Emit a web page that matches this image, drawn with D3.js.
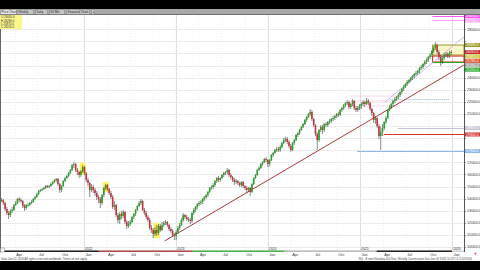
<!DOCTYPE html>
<html>
<head>
<meta charset="utf-8">
<script src="https://cdn.jsdelivr.net/npm/d3@7"></script>
<style>
html, body { margin: 0; padding: 0; background: #000; }
svg { display: block; font-family: "Liberation Sans", "DejaVu Sans", sans-serif; }
</style>
</head>
<body>
<svg id="chart" width="480" height="270"></svg>
<script>
// weekly bars, first bar = week of Jan 4 2021
var firstWeek = new Date(2021, 0, 4);
var firstOpen = 12980;

var closes = [
  // 2021
  13140,13310,13470,13640,13800,13880,13640,13140,12810,12640,12980,13060,13470,13640,13970,13880,13800,13390,13220,13470,13470,13640,13720,13970,14130,14380,14630,14710,14790,14880,15040,14960,15040,15210,15370,15540,15620,15210,14710,15040,15450,15700,15870,16120,16360,16780,16860,16360,16200,15950,16280,16610,
  // 2022
  16120,15540,15290,14710,14960,14710,14460,14130,13970,13640,14300,14880,15120,14790,14460,14130,13310,13470,12640,12230,12730,12560,12890,12070,11740,11900,12070,12480,12730,13060,13390,13640,13800,13060,12810,12480,12230,11570,11400,11070,11400,11160,11740,11400,11820,11980,12070,11820,11490,11320,10990,10910,
  // 2023
  11240,11570,11820,12230,12640,12480,12310,12230,12150,12810,13060,13310,13550,13640,13720,13970,14130,14300,14550,14880,14960,15120,15450,15700,15540,15700,15950,16120,16200,16360,15950,15780,15540,15370,15450,15290,15120,15370,15040,14880,14710,14880,14550,15210,15700,15950,16360,16530,16860,17020,17270,17190,
  // 2024
  16860,17190,17600,17770,18020,18100,18020,18260,18590,18840,18930,18680,18350,18020,18590,18840,19260,19420,19670,19920,20160,20500,20740,20990,21160,20580,20080,19340,18840,19670,19920,19670,20160,20080,20330,20410,20580,20660,20830,20990,20910,21320,21490,21730,21900,21980,21570,21820,22070,21490,21320,21490,
  // 2025
  21650,21820,21980,21820,22070,21900,21400,21070,20500,20660,20000,19170,19500,19830,20330,20660,21320,21570,21820,22070,22230,22400,22560,22810,23060,23220,23470,23640,23800,23970,24130,24300,24380,24550,24790,24880,25120,25290,25450,25700,25870,26200,26450,26690,26110,25700,25290,25620,25870,25950,25780,26030,26110
];

var highs = [
  13310,13470,13640,13800,13970,14050,13970,13720,13310,12980,13140,13310,13550,13800,14050,14130,14050,13880,13550,13550,13640,13720,13880,14050,14210,14460,14710,14790,14880,14960,15120,15120,15120,15290,15450,15620,15700,15700,15290,15120,15540,15780,15950,16200,16450,16860,17020,16940,16530,16280,16360,16780,
  16690,16200,15700,15370,15210,15120,14880,14630,14300,14130,14380,14960,15210,15210,14880,14630,14300,13800,13550,12810,12890,12980,13060,12980,12230,12150,12230,12560,12810,13140,13470,13800,13970,13880,13220,12980,12640,12400,11820,11570,11650,11820,11900,11900,12070,12150,12230,12150,11900,11650,11490,11160,
  11400,11740,11980,12400,12810,12730,12640,12480,12400,12890,13220,13390,13640,13800,13880,14050,14210,14380,14630,14960,15120,15290,15540,15780,15870,15780,16030,16200,16280,16530,16450,16120,15870,15700,15620,15540,15370,15450,15450,15120,15040,14960,14960,15290,15780,16030,16450,16690,16940,17110,17350,17440,
  17270,17270,17690,17850,18100,18260,18260,18430,18680,19010,19090,19090,18840,18510,18680,18930,19340,19500,19750,20000,20250,20580,20830,21070,21400,21320,20660,20160,19500,19750,20080,20080,20250,20330,20410,20580,20660,20830,20910,21070,21160,21400,21570,21820,21980,22150,22070,21900,22230,22150,21650,21650,
  21820,21980,22150,22070,22310,22230,21980,21490,21160,20830,20740,20160,19920,20160,20410,20830,21400,21730,21900,22150,22400,22480,22730,22890,23140,23390,23550,23800,23880,24050,24210,24380,24550,24630,24880,25040,25210,25450,25620,25780,26030,26280,26610,26940,26780,26280,25870,25780,26030,26110,26110,26200,26280
];

var lows = [
  12890,13060,13220,13390,13550,13720,13470,12980,12640,12310,12480,12810,12980,13390,13550,13720,13640,13220,12980,13060,13310,13390,13550,13640,13880,14050,14300,14550,14630,14710,14790,14880,14880,14960,15120,15290,15370,15040,14460,14550,14960,15370,15620,15780,16030,16280,16530,16200,15950,15700,15780,16120,
  15950,15370,15040,14130,14550,14460,14210,13880,13640,13220,13470,14130,14710,14630,14300,13970,13140,13060,12480,11980,11900,12310,12400,11900,11490,11570,11740,11980,12310,12560,12980,13310,13470,12980,12640,12310,12070,11400,11160,10740,10910,10910,10990,11240,11320,11650,11820,11650,11320,11160,10830,10580,
  10580,11070,11400,11740,12070,12310,12150,12070,11900,11980,12640,12890,13140,13390,13470,13550,13800,13970,14130,14460,14710,14790,14960,15290,15370,15370,15620,15780,15950,16030,15780,15620,15370,15120,15210,15120,14960,14960,14880,14710,14460,14550,14210,14460,15120,15620,15870,16280,16450,16690,16940,17020,
  16610,16690,17110,17440,17690,17850,17850,17850,18180,18510,18680,18510,18180,17850,17930,18430,18760,19090,19260,19590,19830,20080,20330,20660,20830,20410,19920,19170,18020,18680,19500,19340,19500,19920,19920,20160,20250,20410,20500,20660,20740,20830,21160,21320,21570,21730,21400,21400,21650,21320,21160,21160,
  21320,21400,21650,21570,21730,21730,21240,20830,20250,20160,19830,18930,18020,19170,19670,20160,20580,21240,21400,21650,21900,22070,22230,22400,22640,22890,23140,23300,23470,23640,23800,23970,24130,24210,24380,24630,24710,24960,25120,25290,25540,25700,26030,26280,25950,25450,24960,25120,25450,25700,25620,25620,25870
];

var priceTicks = [10000,11000,12000,13000,14000,15000,16000,17000,18000,19000,20000,21000,22000,23000,24000,25000,26000,27000,28000];
var yearTicks = [2022, 2023, 2024, 2025, 2026];
var highlightBars = [51, 64, 93];

// trend line anchors [date, price]
var trendLine = [[new Date(2022, 10, 17), 10500], [new Date(2026, 1, 17), 25040]];
var channelLine = [[new Date(2025, 3, 10), 21980], [new Date(2026, 1, 17), 27360]];

// horizontal levels
var levelPrices = [29090, 28760, 19830, 19300, 17930];
var levelStarts = [new Date(2025, 9, 16), new Date(2025, 9, 16), new Date(2025, 5, 1), new Date(2025, 3, 5), new Date(2024, 11, 20)];
var fibPrices = [22480, 22070, 21650, 22190];
var boxTop = [26690, 25870];
var boxMid = [25780, 25290];
var boxLow = 25250;
var boxStart = new Date(2025, 9, 16);

var tabNames = ["Price Chart", "Weekly", "Daily", "60 Min", "Seasonal Chart", "+"];

var W = 480, H = 270;
var plotL = 0, plotR = 464, plotT = 15, plotB = 250;

var svg = d3.select("#chart");

svg.append("rect").attr("width", W).attr("height", H).attr("fill", "#fff");

var x = d3.scaleTime()
    .domain([new Date(2021, 0, 1), new Date(2026, 0, 1)])
    .range([-8, 452]);

var y = d3.scaleLinear()
    .domain([10000, 28000])
    .range([247, 247 - 18 * 12.1]);

svg.append("clipPath").attr("id", "plotclip")
  .append("rect")
    .attr("x", plotL).attr("y", plotT)
    .attr("width", plotR - plotL).attr("height", plotB - plotT);

var plot = svg.append("g").attr("clip-path", "url(#plotclip)");

// grid
var quarters = d3.timeMonth.range(new Date(2021, 0, 1), new Date(2026, 3, 1), 3);
plot.selectAll(".vgrid")
  .data(quarters)
  .enter().append("line")
    .attr("x1", function(d) { return x(d) + 0.5; })
    .attr("x2", function(d) { return x(d) + 0.5; })
    .attr("y1", plotT).attr("y2", plotB)
    .attr("stroke", function(d) { return d.getMonth() === 0 ? "#dcdcdc" : "#ececec"; })
    .attr("stroke-dasharray", function(d) { return d.getMonth() === 0 ? null : "1,2"; })
    .attr("stroke-width", 1);

plot.selectAll(".hgrid")
  .data(priceTicks)
  .enter().append("line")
    .attr("x1", plotL).attr("x2", plotR)
    .attr("y1", function(d) { return Math.round(y(d)) + 0.5; })
    .attr("y2", function(d) { return Math.round(y(d)) + 0.5; })
    .attr("stroke", "#ebebeb")
    .attr("stroke-width", 1);

var bars = closes.map(function(c, i) {
    return {
        date: d3.timeDay.offset(firstWeek, 7 * i),
        open: i === 0 ? firstOpen : closes[i - 1],
        high: highs[i],
        low: lows[i],
        close: c
    };
});

// highlighted bars
plot.selectAll(".hl")
  .data(highlightBars)
  .enter().append("rect")
    .attr("x", function(i) { return x(bars[i].date) - 3; })
    .attr("width", 6)
    .attr("y", function(i) { return y(bars[i].high) - 2; })
    .attr("height", function(i) { return y(bars[i].low) - y(bars[i].high) + 4; })
    .attr("fill", "#fff35a");

// box annotations top right
plot.append("rect")
    .attr("x", x(boxStart)).attr("width", plotR - x(boxStart))
    .attr("y", y(boxTop[0])).attr("height", y(boxTop[1]) - y(boxTop[0]))
    .attr("fill", "#fbf7c8").attr("stroke", "#9a9a22").attr("stroke-width", 1);
plot.append("rect")
    .attr("x", x(boxStart)).attr("width", plotR - x(boxStart))
    .attr("y", y(boxMid[0])).attr("height", y(boxMid[1]) - y(boxMid[0]))
    .attr("fill", "none").attr("stroke", "#dd2222").attr("stroke-width", 1);
plot.append("line")
    .attr("x1", x(boxStart)).attr("x2", plotR)
    .attr("y1", y(boxLow)).attr("y2", y(boxLow))
    .attr("stroke", "#22aa22").attr("stroke-width", 1);

// horizontal levels
var levelColors = ["#ff55ff", "#ff99ff", "#c4c4d4", "#d83232", "#8cb8e8"];
plot.selectAll(".lvl")
  .data(levelPrices)
  .enter().append("line")
    .attr("x1", function(d, i) { return x(levelStarts[i]); })
    .attr("x2", plotR)
    .attr("y1", function(d) { return Math.round(y(d)) + 0.5; })
    .attr("y2", function(d) { return Math.round(y(d)) + 0.5; })
    .attr("stroke", function(d, i) { return levelColors[i]; })
    .attr("stroke-width", 1);

// dotted fib levels
plot.selectAll(".fib")
  .data(fibPrices)
  .enter().append("line")
    .attr("x1", function(d, i) { return x(i === 3 ? new Date(2025, 4, 1) : new Date(2024, 10, 20)); })
    .attr("x2", function(d, i) { return x(i === 3 ? new Date(2025, 11, 20) : new Date(2025, 5, 7)); })
    .attr("y1", function(d) { return y(d); })
    .attr("y2", function(d) { return y(d); })
    .attr("stroke", function(d, i) { return i === 3 ? "#7aa8d8" : "#f0a0c8"; })
    .attr("stroke-width", 0.8)
    .attr("stroke-dasharray", "1,1");

// trend lines
var line = d3.line().x(function(d) { return x(d[0]); }).y(function(d) { return y(d[1]); });
plot.append("path").datum(trendLine)
    .attr("d", line).attr("fill", "none")
    .attr("stroke", "#a83a3a").attr("stroke-width", 1);
plot.append("path").datum(channelLine)
    .attr("d", line).attr("fill", "none")
    .attr("stroke", "#b8a8e0").attr("stroke-width", 0.8);

// candles
var candle = plot.selectAll(".bar")
  .data(bars)
  .enter().append("g");

candle.append("line")
    .attr("x1", function(d) { return x(d.date); })
    .attr("x2", function(d) { return x(d.date); })
    .attr("y1", function(d) { return y(d.high); })
    .attr("y2", function(d) { return y(d.low); })
    .attr("stroke", "#3a3a3a")
    .attr("stroke-width", 0.6);

candle.append("rect")
    .attr("x", function(d) { return x(d.date) - 0.8; })
    .attr("width", 1.6)
    .attr("y", function(d) { return y(Math.max(d.open, d.close)); })
    .attr("height", function(d) { return Math.max(0.8, Math.abs(y(d.open) - y(d.close))); })
    .attr("fill", function(d) { return d.close >= d.open ? "#23a523" : "#c8323c"; });

// plot frame
svg.append("line").attr("x1", plotR + 0.5).attr("x2", plotR + 0.5)
    .attr("y1", plotT).attr("y2", 252).attr("stroke", "#555").attr("stroke-width", 1);
svg.append("line").attr("x1", 0.5).attr("x2", 0.5)
    .attr("y1", plotT).attr("y2", plotB).attr("stroke", "#666").attr("stroke-width", 1);

// coloured price tags on the axis, pushed apart so they do not overlap
var tagPrices = levelPrices.concat([boxTop[0], boxTop[1], boxMid[0], boxMid[1], boxLow, closes[closes.length - 1]]);
var tagColors = levelColors.concat(["#9a9a22", "#c9c23a", "#e0502a", "#a0a0a0", "#22aa22", "#c82828"]);
var tagData = tagPrices.map(function(p, i) {
    return { price: p, color: tagColors[i], ty: y(p) };
}).sort(function(a, b) { return a.ty - b.ty; });
for (var k = 1; k < tagData.length; k++) {
    if (tagData[k].ty - tagData[k - 1].ty < 4.4) tagData[k].ty = tagData[k - 1].ty + 4.4;
}

// right price axis (labels hidden where a tag sits)
var shownTicks = priceTicks.filter(function(p) {
    return tagData.every(function(t) { return Math.abs(y(p) - t.ty) > 4.4; });
});
var yAxis = svg.append("g");
yAxis.selectAll("text")
  .data(shownTicks)
  .enter().append("text")
    .attr("x", plotR + 3)
    .attr("y", function(d) { return y(d) + 1.4; })
    .attr("font-size", 3.8)
    .attr("fill", "#333")
    .text(function(d) { return d3.format(".1f")(d); });
yAxis.selectAll("line")
  .data(priceTicks)
  .enter().append("line")
    .attr("x1", plotR).attr("x2", plotR + 2)
    .attr("y1", function(d) { return Math.round(y(d)) + 0.5; })
    .attr("y2", function(d) { return Math.round(y(d)) + 0.5; })
    .attr("stroke", "#555").attr("stroke-width", 0.6);

var tags = svg.append("g").selectAll("g")
  .data(tagData)
  .enter().append("g");
tags.append("rect")
    .attr("x", plotR + 1).attr("width", 15)
    .attr("y", function(d) { return d.ty - 2; })
    .attr("height", 4)
    .attr("fill", function(d) { return d.color; });
tags.append("text")
    .attr("x", plotR + 2)
    .attr("y", function(d) { return d.ty + 1.3; })
    .attr("font-size", 3.5)
    .attr("fill", "#fff")
    .text(function(d) { return d3.format(".1f")(d.price); });

// bottom time axis
var strip = [
  [new Date(2021, 0, 1), new Date(2022, 2, 1), "#222"],
  [new Date(2022, 2, 1), new Date(2023, 2, 8), "#b04848"],
  [new Date(2023, 2, 8), new Date(2024, 2, 8), "#4cb04c"],
  [new Date(2024, 2, 8), new Date(2025, 2, 8), "#bdbdbd"],
  [new Date(2025, 2, 8), new Date(2026, 0, 1), "#222"]
];
svg.append("rect").attr("x", 0).attr("y", 250.5).attr("width", plotR).attr("height", 1.5).attr("fill", "#cfcfcf");
svg.selectAll(".strip")
  .data(strip)
  .enter().append("rect")
    .attr("x", function(d) { return Math.max(0, x(d[0])); })
    .attr("width", function(d) { return x(d[1]) - Math.max(0, x(d[0])); })
    .attr("y", 250.5).attr("height", 1.5)
    .attr("fill", function(d) { return d[2]; });

svg.selectAll(".mlab")
  .data(quarters.filter(function(d) { return x(d) > 0 && x(d) < 462; }))
  .enter().append("text")
    .attr("x", function(d) { return x(d) + 1.5; })
    .attr("y", 256)
    .attr("font-size", 3.8)
    .attr("fill", "#333")
    .text(d3.timeFormat("%b"));

svg.selectAll(".ylab")
  .data(yearTicks)
  .enter().append("text")
    .attr("x", function(d) { return x(new Date(d, 0, 1)) + 1; })
    .attr("y", 250)
    .attr("font-size", 3.4)
    .attr("fill", "#333")
    .text(function(d) { return d; });

svg.append("rect").attr("x", 0.5).attr("y", 248).attr("width", 4).attr("height", 4)
    .attr("fill", "#fff").attr("stroke", "#777").attr("stroke-width", 0.5);

svg.append("text").attr("x", 474).attr("y", 255).attr("font-size", 5)
    .attr("fill", "#d22").attr("font-weight", "bold").text("+");

// status line
svg.append("text").attr("x", 1).attr("y", 259.5).attr("font-size", 2.9).attr("fill", "#444")
    .text("Data Jan 02 2026 All rights reserved worldwide. Terms of use apply.");
svg.append("text").attr("x", 472).attr("y", 259.5).attr("font-size", 2.9).attr("fill", "#444")
    .attr("text-anchor", "end")
    .text("NQ - E-mini Nasdaq-100 Stat, Weekly Continuation  Sat Jan 03 2026 10:37:11 (1/2/2026)");

// black bands
svg.append("rect").attr("y", 0).attr("width", W).attr("height", 9).attr("fill", "#000");
svg.append("rect").attr("y", 261).attr("width", W).attr("height", 9).attr("fill", "#000");

// toolbar
svg.append("rect").attr("y", 9).attr("width", W).attr("height", 6).attr("fill", "#a8a8a8");
svg.append("line").attr("x1", 0).attr("x2", W).attr("y1", 14.5).attr("y2", 14.5)
    .attr("stroke", "#707070").attr("stroke-width", 1);
var tabX = [0, 17, 35, 49, 66, 91];
var tabW = [17, 17, 13, 16, 24, 4];
var tab = svg.selectAll(".tab")
  .data(tabNames)
  .enter().append("g");
tab.append("rect")
    .attr("x", function(d, i) { return tabX[i] + 0.5; })
    .attr("y", 9.8).attr("height", 4.4)
    .attr("width", function(d, i) { return tabW[i] - 1; })
    .attr("fill", function(d, i) { return i === 0 ? "#e8e8e8" : "#c4c4c4"; })
    .attr("stroke", "#777").attr("stroke-width", 0.4);
tab.append("text")
    .attr("x", function(d, i) { return tabX[i] + 1.5; })
    .attr("y", 13.2)
    .attr("font-size", 3)
    .attr("fill", "#222")
    .text(function(d) { return d; });

// legend box top left
var last = bars[bars.length - 1];
var legend = ["O " + d3.format(".1f")(last.open), "H " + d3.format(".1f")(last.high),
              "L " + d3.format(".1f")(last.low), "C " + d3.format(".1f")(last.close)];
svg.append("rect").attr("x", 0).attr("y", 15).attr("width", 22).attr("height", 14).attr("fill", "#fbf58a");
svg.selectAll(".leg")
  .data(legend)
  .enter().append("text")
    .attr("x", 1).attr("y", function(d, i) { return 18.3 + i * 3.3; })
    .attr("font-size", 2.9).attr("fill", "#333")
    .text(function(d) { return d; });
</script>
</body>
</html>
